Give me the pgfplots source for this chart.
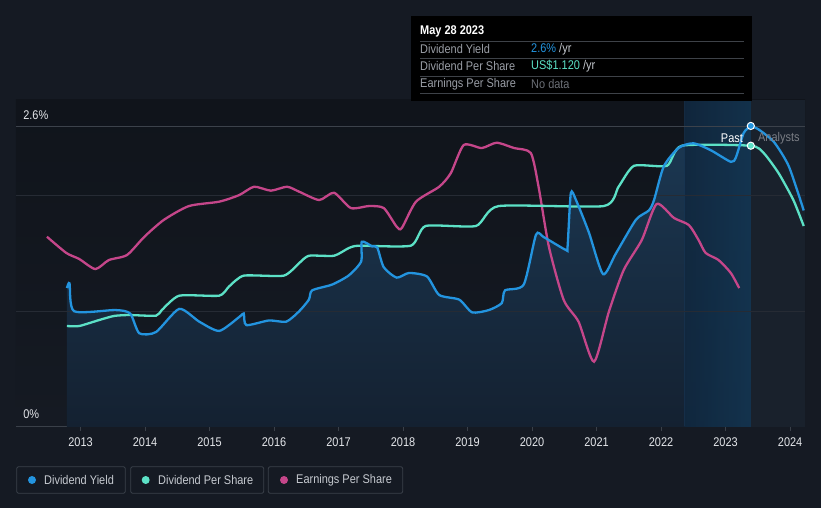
\documentclass[border=0pt]{standalone}
\usepackage{pgfplots}
\pgfplotsset{compat=1.18}
\usepackage{pgfplotstable}
\usepackage{fontspec}
\setmainfont{Liberation Sans}
\newfontfamily\cf[FakeStretch=0.87]{Liberation Sans}
\newcommand\chartfont{\cf\fontsize{12.6}{14}\selectfont}

\definecolor{bgcol}{HTML}{151A23}
\definecolor{plottop}{HTML}{10141B}
\definecolor{plotbot}{HTML}{151A23}
\definecolor{forecol}{HTML}{19212C}
\definecolor{gridcol}{HTML}{262B34}
\definecolor{toplinecol}{HTML}{3C424B}
\definecolor{axiscol}{HTML}{3A4049}
\definecolor{ticktext}{HTML}{E4E6EA}
\definecolor{dyblue}{HTML}{2394DF}
\definecolor{dpsteal}{HTML}{5CE1C6}
\definecolor{epspink}{HTML}{C5468A}
\definecolor{areatop}{HTML}{1B3853}
\definecolor{areabot}{HTML}{142131}
\definecolor{bandleft}{HTML}{163452}
\definecolor{bandright}{HTML}{194468}
\definecolor{labcol}{HTML}{9A9EA6}
\definecolor{nodata}{HTML}{6B6F76}
\definecolor{sepcol}{HTML}{3E4248}
\definecolor{legtext}{HTML}{C6CAD0}
\definecolor{legbox}{HTML}{3B414A}

% dividend yield (%), past
\pgfplotstableread{
x y
2012.79 1.20
2012.83 1.24
2012.90 1.00
2013.54 1.01
2013.77 0.98
2013.91 0.81
2014.17 0.82
2014.53 1.02
2014.84 0.91
2015.15 0.83
2015.46 0.95
2015.53 0.98
2015.57 0.88
2015.92 0.92
2016.19 0.91
2016.39 1.00
2016.54 1.10
2016.59 1.18
2016.90 1.23
2017.16 1.31
2017.35 1.43
2017.36 1.60
2017.52 1.56
2017.60 1.55
2017.70 1.38
2017.90 1.29
2018.09 1.33
2018.37 1.30
2018.56 1.14
2018.87 1.10
2019.07 0.99
2019.33 1.01
2019.53 1.07
2019.58 1.18
2019.87 1.23
2020.06 1.66
2020.18 1.64
2020.52 1.53
2020.55 1.56
2020.60 2.02
2020.68 1.96
2020.88 1.68
2021.10 1.32
2021.30 1.50
2021.61 1.79
2021.81 1.87
2021.89 1.96
2022.04 2.25
2022.27 2.41
2022.50 2.45
2022.77 2.39
2023.08 2.29
2023.16 2.33
2023.28 2.54
2023.39 2.60
}\yieldpast

% dividend yield, analysts
\pgfplotstableread{
x y
2023.39 2.60
2023.51 2.57
2023.75 2.46
2023.98 2.25
2024.21 1.87
}\yieldfc

% dividend per share (scaled to chart)
\pgfplotstableread{
x y
2012.79 0.872
2012.98 0.872
2013.29 0.924
2013.52 0.959
2013.75 0.967
2014.17 0.961
2014.26 1.010
2014.53 1.134
2015.15 1.134
2015.30 1.212
2015.53 1.307
2016.15 1.307
2016.39 1.416
2016.54 1.479
2016.93 1.479
2017.16 1.546
2017.32 1.566
2018.12 1.566
2018.35 1.736
2019.13 1.736
2019.48 1.908
2021.11 1.908
2021.34 2.075
2021.58 2.256
2022.09 2.256
2022.32 2.429
2023.39 2.429
2023.59 2.366
2023.82 2.193
2024.05 1.960
2024.21 1.736
}\dps

% earnings per share (scaled to chart)
\pgfplotstableread{
x y
2012.48 1.643
2012.78 1.503
2012.98 1.451
2013.23 1.364
2013.44 1.442
2013.72 1.485
2013.99 1.643
2014.29 1.788
2014.68 1.908
2015.15 1.946
2015.46 2.003
2015.69 2.075
2015.95 2.041
2016.20 2.075
2016.39 2.032
2016.70 1.960
2016.93 2.023
2017.19 1.891
2017.47 1.908
2017.70 1.891
2017.90 1.730
2017.98 1.718
2018.20 1.946
2018.56 2.075
2018.74 2.193
2018.94 2.435
2019.22 2.409
2019.45 2.455
2019.72 2.409
2019.98 2.366
2020.10 2.075
2020.26 1.557
2020.49 1.097
2020.72 0.909
2020.96 0.564
2021.19 0.996
2021.42 1.356
2021.70 1.615
2021.93 1.926
2022.20 1.805
2022.43 1.744
2022.58 1.615
2022.69 1.503
2022.89 1.442
2023.08 1.330
2023.21 1.200
}\eps

\begin{document}
\begin{tikzpicture}[x=1pt,y=1pt]
\fill[bgcol] (0,0) rectangle (821,508);

\begin{axis}[
  at={(16pt,81pt)}, anchor=south west,
  scale only axis, width=789pt, height=327pt,
  xmin=2012, xmax=2024.23, ymin=0, ymax=2.824,
  axis x line*=bottom, axis y line=none,
  x axis line style={draw=axiscol, line width=1pt, -},
  xtick={2013,...,2024},
  ytick=\empty,
  xticklabel style={text=ticktext, font=\chartfont, yshift=-2.5pt},
  x tick style={draw=axiscol, line width=0.8pt},
  major tick length=4.5pt, tick align=outside,
  /pgf/number format/1000 sep={},
  /pgf/number format/assume math mode=true,
  axis background/.style={top color=plottop, bottom color=plotbot},
]
% analysts region
\fill[forecol] (2023.39,0) rectangle (2024.23,2.824);

% area under yield
\addplot[draw=none, top color=areatop, bottom color=areabot, smooth, tension=0.4]
  table {\yieldpast} \closedcycle;

% past band
\fill[left color=bandleft, right color=bandright, fill opacity=0.7] (2022.365,0) rectangle (2023.39,2.824);

% grid
\draw[gridcol, line width=0.8pt] (2012,1) -- (2024.23,1);
\draw[gridcol, line width=0.8pt] (2012,2) -- (2024.23,2);
\draw[toplinecol, line width=0.8pt] (2012,2.6) -- (2024.23,2.6);

\addplot[epspink, line width=2.3pt, smooth, tension=0.4] table {\eps};
\addplot[dpsteal, line width=2.3pt, smooth, tension=0.35] table {\dps};
\addplot[dyblue, line width=2.3pt, smooth, tension=0.4] table {\yieldpast};
\addplot[dyblue, line width=2.3pt, smooth, tension=0.4] table {\yieldfc};

\addplot[only marks, mark=*, mark size=3.6pt, mark options={fill=dyblue, draw=white, line width=1pt}]
  coordinates {(2023.39,2.60)};
\addplot[only marks, mark=*, mark size=3.6pt, mark options={fill=dpsteal, draw=white, line width=1pt}]
  coordinates {(2023.39,2.429)};

\node[anchor=south west, text=ticktext, font=\chartfont, inner sep=0pt] at (2012.11,2.65) {2.6\%};
\node[anchor=south west, text=ticktext, font=\chartfont, inner sep=0pt] at (2012.11,0.07) {0\%};
\node[anchor=east, text=white, font=\chartfont, inner sep=0pt] at (2023.27,2.495) {Past};
\node[anchor=west, text=labcol!80!black, font=\chartfont, inner sep=0pt] at (2023.50,2.495) {Analysts};
\end{axis}

% tooltip
\fill[black] (411,407) rectangle (752,492);
\begin{scope}[font=\chartfont]
\node[anchor=west, text=white, inner sep=0pt] at (420,477) {\bfseries May 28 2023};
\foreach \yy in {467,449.7,432,414.7} \draw[sepcol, line width=0.8pt] (420,\yy) -- (744,\yy);
\node[anchor=west, text=labcol, inner sep=0pt] at (420,459) {Dividend Yield};
\node[anchor=west, text=labcol, inner sep=0pt] at (420,441.5) {Dividend Per Share};
\node[anchor=west, text=labcol, inner sep=0pt] at (420,424) {Earnings Per Share};
\node[anchor=west, text=legtext, inner sep=0pt] at (531,459) {\textcolor{dyblue}{2.6\%} /yr};
\node[anchor=west, text=legtext, inner sep=0pt] at (531,441.5) {\textcolor{dpsteal}{US\$1.120} /yr};
\node[anchor=west, text=nodata, inner sep=0pt] at (531,424) {No data};
\end{scope}

% legend
\begin{scope}[font=\chartfont]
\draw[legbox, line width=0.8pt, rounded corners=2pt] (16.7,14.7) rectangle (125.3,41.3);
\fill[dyblue] (32,28) circle (4);
\node[anchor=west, text=legtext, inner sep=0pt] at (44,28) {Dividend Yield};
\draw[legbox, line width=0.8pt, rounded corners=2pt] (130.7,14.7) rectangle (263.7,41.3);
\fill[dpsteal] (145.7,28) circle (4);
\node[anchor=west, text=legtext, inner sep=0pt] at (158,28) {Dividend Per Share};
\draw[legbox, line width=0.8pt, rounded corners=2pt] (268.3,14.7) rectangle (402.7,41.3);
\fill[epspink] (284,28) circle (4);
\node[anchor=west, text=legtext, inner sep=0pt] at (296,28) {Earnings Per Share};
\end{scope}
\end{tikzpicture}
\end{document}
